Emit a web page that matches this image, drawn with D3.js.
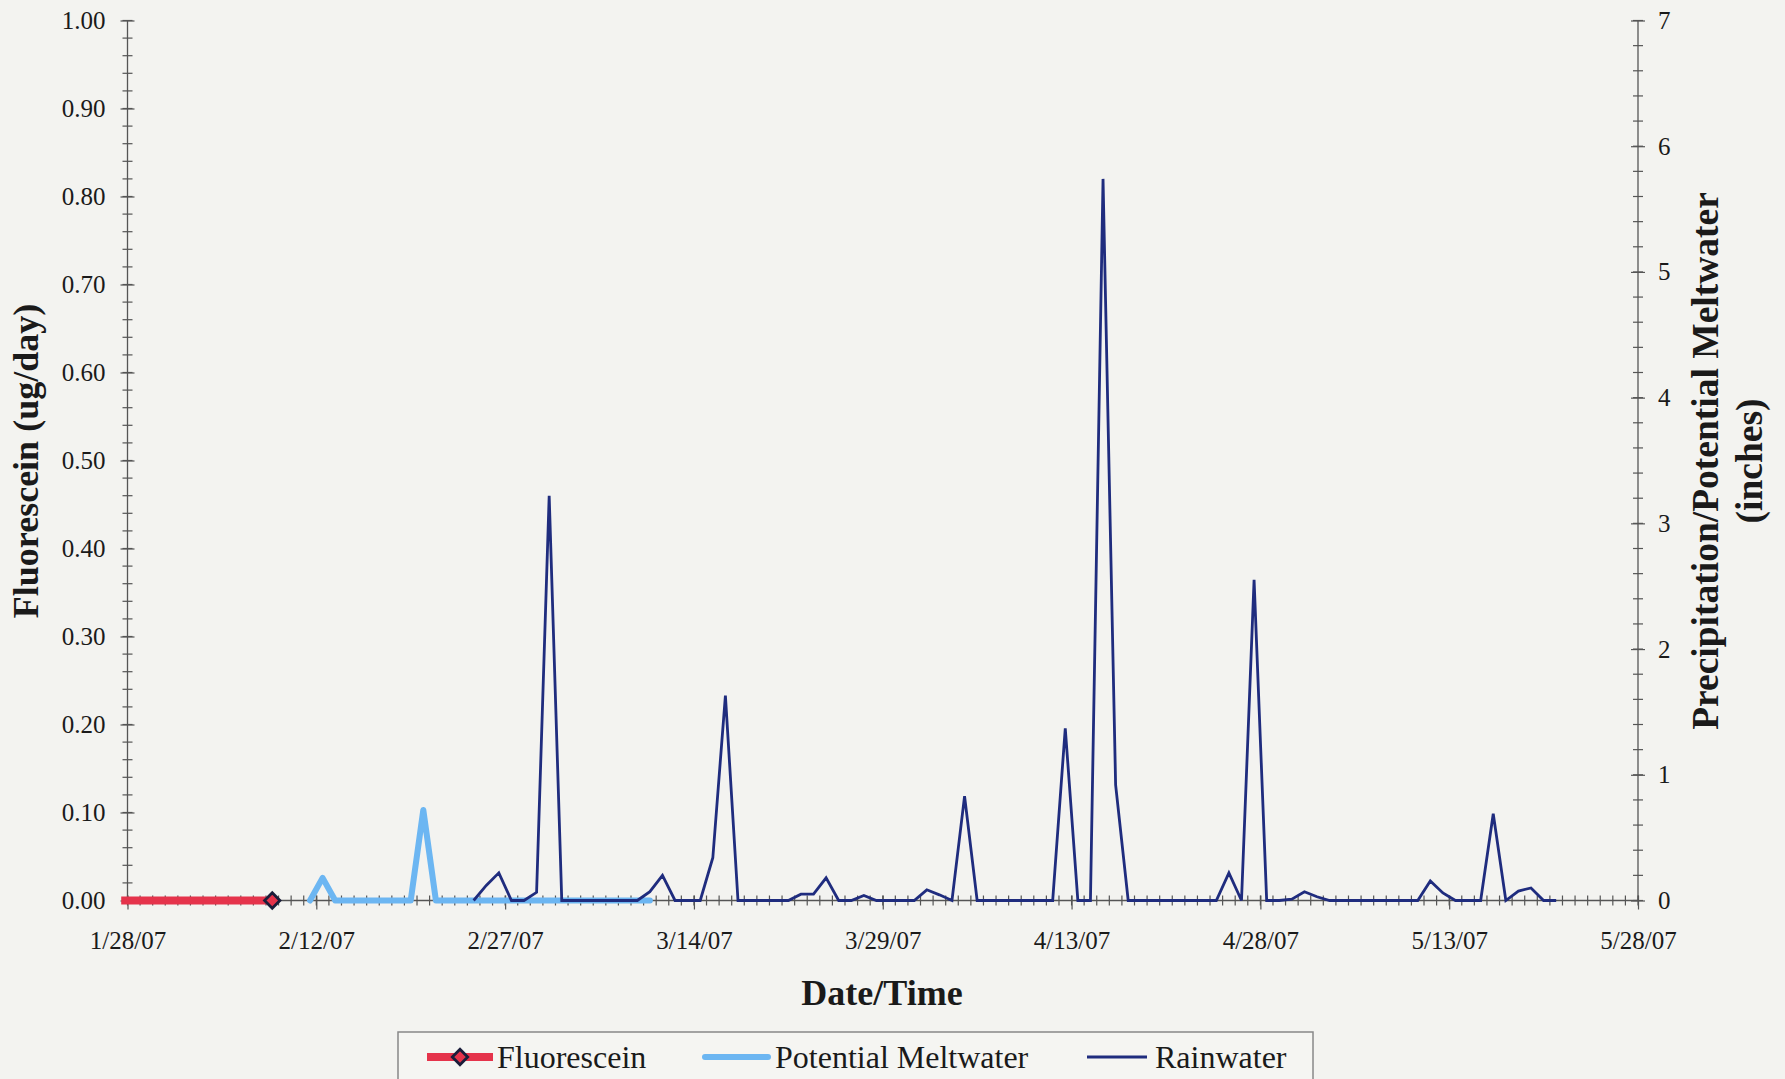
<!DOCTYPE html>
<html>
<head>
<meta charset="utf-8">
<script src="https://cdnjs.cloudflare.com/ajax/libs/d3/7.8.5/d3.min.js"></script>
<style>
  html, body { margin: 0; padding: 0; background: #f3f3f0; }
  svg { display: block; }
  text { font-family: "Liberation Serif", "Times New Roman", serif; fill: #1a1a1a; }
</style>
</head>
<body>
<svg id="chart" width="1785" height="1079"></svg>
<script>
// ---------------- DATA ----------------
const axisStart = "2007-01-28";
const axisEnd = "2007-05-28";
const xTickLabels = ["1/28/07", "2/12/07", "2/27/07", "3/14/07", "3/29/07", "4/13/07", "4/28/07", "5/13/07", "5/28/07"];
const leftTicks = [0, 0.1, 0.2, 0.3, 0.4, 0.5, 0.6, 0.7, 0.8, 0.9, 1.0];
const rightTicks = [0, 1, 2, 3, 4, 5, 6, 7];

// Fluorescein (ug/day) - daily from 1/27/07
const fluoresceinStart = "2007-01-27";
const fluoresceinValues = [0, 0, 0, 0, 0, 0, 0, 0, 0, 0, 0, 0, 0];

// Potential Meltwater (inches) - daily from 2/11/07
const meltStart = "2007-02-11";
const meltValues = [0, 0.18, 0, 0, 0, 0, 0, 0, 0, 0.72, 0, 0, 0, 0, 0, 0, 0, 0, 0, 0, 0, 0, 0, 0, 0, 0, 0, 0];

// Rainwater (inches) - daily from 2/24/07
const rainStart = "2007-02-24";
const rainValues = [
  0, 0.12, 0.22, 0, 0, 0.065, 3.22, 0, 0, 0, 0, 0, 0, 0,      // 2/24 - 3/9
  0.07, 0.2, 0, 0, 0, 0.34, 1.63, 0, 0, 0, 0, 0, 0.05, 0.05,   // 3/10 - 3/23
  0.18, 0, 0, 0.04, 0, 0, 0, 0, 0.085, 0.045, 0, 0.83, 0, 0,   // 3/24 - 4/6
  0, 0, 0, 0, 0, 1.37, 0, 0, 5.74, 0.92, 0, 0, 0, 0,           // 4/7 - 4/20
  0, 0, 0, 0, 0.22, 0, 2.55, 0, 0, 0.01, 0.07, 0.03, 0, 0,     // 4/21 - 5/4
  0, 0, 0, 0, 0, 0, 0.155, 0.06, 0, 0, 0, 0.69, 0, 0.075,      // 5/5 - 5/18
  0.10, 0, 0                                                   // 5/19 - 5/21
];

const legendItems = ["Fluorescein", "Potential Meltwater", "Rainwater"];

// ---------------- SETUP ----------------
const svg = d3.select("#chart");
const parse = d3.timeParse("%Y-%m-%d");
const fmt = d3.timeFormat("%-m/%-d/%y");

const COLORS = { fluor: "#e5334b", melt: "#6cb6f2", rain: "#1f2c7e", axis: "#555" };

const x = d3.scaleTime().domain([parse(axisStart), parse(axisEnd)]).range([127.5, 1638]);
const yL = d3.scaleLinear().domain([0, 1]).range([900.5, 20.5]);
const yR = d3.scaleLinear().domain([0, 7]).range([900.5, 20.5]);

// Excel date axis "between tick marks": points sit at the middle of the day
const series = (start, vals) => {
  const s = parse(start);
  return vals.map((v, i) => ({ date: d3.timeHour.offset(d3.timeDay.offset(s, i), 12), value: v }));
};
const fluorData = series(fluoresceinStart, fluoresceinValues);
const meltData = series(meltStart, meltValues);
const rainData = series(rainStart, rainValues);

// ---------------- AXES ----------------
const days = d3.timeDay.range(parse(axisStart), d3.timeDay.offset(parse(axisEnd), 1));
const gx = svg.append("g").attr("transform", `translate(0,${yL(0)})`);
gx.append("line").attr("x1", x.range()[0]).attr("x2", x.range()[1]).attr("stroke", COLORS.axis).attr("stroke-width", 1.3);
gx.selectAll("line.minor").data(days).join("line").attr("class", "minor")
  .attr("x1", d => x(d)).attr("x2", d => x(d)).attr("y1", -5).attr("y2", 5)
  .attr("stroke", COLORS.axis).attr("stroke-width", 1.2);

const majorDates = xTickLabels.map(s => d3.timeParse("%m/%d/%y")(s));
const xAxis = d3.axisBottom(x).tickValues(majorDates).tickFormat(fmt).tickSize(9).tickPadding(30);
const gxa = svg.append("g").attr("transform", `translate(0,${yL(0)})`).call(xAxis);
gxa.select(".domain").remove();
gxa.selectAll(".tick line").attr("y1", -5).attr("stroke", COLORS.axis).attr("stroke-width", 1.2);
gxa.selectAll(".tick text").attr("font-size", 25).attr("font-family", "Liberation Serif").attr("fill", "#1a1a1a")
  .attr("dy", null).attr("y", 48);

// left axis
const leftMinor = d3.range(0, 1.0001, 0.02);
const gl = svg.append("g").attr("transform", `translate(${x.range()[0]},0)`);
gl.append("line").attr("y1", yL(0)).attr("y2", yL(1)).attr("stroke", COLORS.axis).attr("stroke-width", 1.3);
gl.selectAll("line.minor").data(leftMinor).join("line").attr("class", "minor")
  .attr("x1", -5).attr("x2", 5).attr("y1", d => yL(d)).attr("y2", d => yL(d))
  .attr("stroke", COLORS.axis).attr("stroke-width", 1.2);
const yLAxis = d3.axisLeft(yL).tickValues(leftTicks).tickFormat(d3.format(".2f")).tickSize(7).tickPadding(15);
const gla = svg.append("g").attr("transform", `translate(${x.range()[0]},0)`).call(yLAxis);
gla.select(".domain").remove();
gla.selectAll(".tick line").attr("x2", 7).attr("x1", -7).attr("stroke", COLORS.axis).attr("stroke-width", 1.2);
gla.selectAll(".tick text").attr("font-size", 25).attr("font-family", "Liberation Serif").attr("fill", "#1a1a1a");

// right axis
const rightMinor = d3.range(0, 7.0001, 0.2);
const gr = svg.append("g").attr("transform", `translate(${x.range()[1]},0)`);
gr.append("line").attr("y1", yR(0)).attr("y2", yR(7)).attr("stroke", COLORS.axis).attr("stroke-width", 1.3);
gr.selectAll("line.minor").data(rightMinor).join("line").attr("class", "minor")
  .attr("x1", -5).attr("x2", 5).attr("y1", d => yR(d)).attr("y2", d => yR(d))
  .attr("stroke", COLORS.axis).attr("stroke-width", 1.2);
const yRAxis = d3.axisRight(yR).tickValues(rightTicks).tickFormat(d3.format("d")).tickSize(7).tickPadding(13);
const gra = svg.append("g").attr("transform", `translate(${x.range()[1]},0)`).call(yRAxis);
gra.select(".domain").remove();
gra.selectAll(".tick line").attr("x1", -7).attr("x2", 7).attr("stroke", COLORS.axis).attr("stroke-width", 1.2);
gra.selectAll(".tick text").attr("font-size", 25).attr("font-family", "Liberation Serif").attr("fill", "#1a1a1a");

// ---------------- TITLES ----------------
svg.append("text").attr("transform", "translate(38,461) rotate(-90)").attr("text-anchor", "middle")
  .attr("font-size", 36).attr("font-weight", "bold").text("Fluorescein (ug/day)");
svg.append("text").attr("transform", "translate(1718,461) rotate(-90)").attr("text-anchor", "middle")
  .attr("font-size", 37.5).attr("font-weight", "bold").text("Precipitation/Potential Meltwater");
svg.append("text").attr("transform", "translate(1762,461) rotate(-90)").attr("text-anchor", "middle")
  .attr("font-size", 37.5).attr("font-weight", "bold").text("(inches)");
svg.append("text").attr("x", 882).attr("y", 1005).attr("text-anchor", "middle")
  .attr("font-size", 36).attr("font-weight", "bold").text("Date/Time");

// ---------------- SERIES ----------------
const lineL = d3.line().x(d => x(d.date)).y(d => yL(d.value));
const lineR = d3.line().x(d => x(d.date)).y(d => yR(d.value));

svg.append("path").datum(meltData).attr("d", lineR).attr("fill", "none")
  .attr("stroke", COLORS.melt).attr("stroke-width", 6).attr("stroke-linejoin", "round").attr("stroke-linecap", "round");
svg.append("path").datum(rainData).attr("d", lineR).attr("fill", "none")
  .attr("stroke", COLORS.rain).attr("stroke-width", 2.8).attr("stroke-linejoin", "miter");
svg.append("path").datum(fluorData).attr("d", lineL).attr("fill", "none")
  .attr("stroke", COLORS.fluor).attr("stroke-width", 8);
const diamond = d3.symbol().type(d3.symbolDiamond2).size(150);
const last = fluorData[fluorData.length - 1];
svg.append("path").attr("d", diamond()).attr("transform", `translate(${x(last.date)},${yL(last.value)})`)
  .attr("fill", COLORS.fluor).attr("stroke", "#1a1d3a").attr("stroke-width", 2.8);

// ---------------- LEGEND ----------------
const lg = svg.append("g");
lg.append("rect").attr("x", 398).attr("y", 1032).attr("width", 915).attr("height", 60)
  .attr("fill", "#f5f5f2").attr("stroke", "#888").attr("stroke-width", 1.5);
const ly = 1057;
const legendPos = [
  { sx1: 427, sx2: 493, tx: 497 },
  { sx1: 705, sx2: 768, tx: 775 },
  { sx1: 1087, sx2: 1147, tx: 1155 }
];
lg.append("line").attr("x1", legendPos[0].sx1).attr("x2", legendPos[0].sx2).attr("y1", ly).attr("y2", ly)
  .attr("stroke", COLORS.fluor).attr("stroke-width", 8);
lg.append("path").attr("d", diamond()).attr("transform", `translate(${(legendPos[0].sx1 + legendPos[0].sx2) / 2},${ly})`)
  .attr("fill", COLORS.fluor).attr("stroke", "#1a1d3a").attr("stroke-width", 2.8);
lg.append("line").attr("x1", legendPos[1].sx1).attr("x2", legendPos[1].sx2).attr("y1", ly).attr("y2", ly)
  .attr("stroke", COLORS.melt).attr("stroke-width", 6).attr("stroke-linecap", "round");
lg.append("line").attr("x1", legendPos[2].sx1).attr("x2", legendPos[2].sx2).attr("y1", ly).attr("y2", ly)
  .attr("stroke", COLORS.rain).attr("stroke-width", 2.8);
lg.selectAll("text.leg").data(legendItems).join("text").attr("class", "leg")
  .attr("x", (d, i) => legendPos[i].tx).attr("y", ly + 11).attr("font-size", 32).text(d => d);
</script>
</body>
</html>
